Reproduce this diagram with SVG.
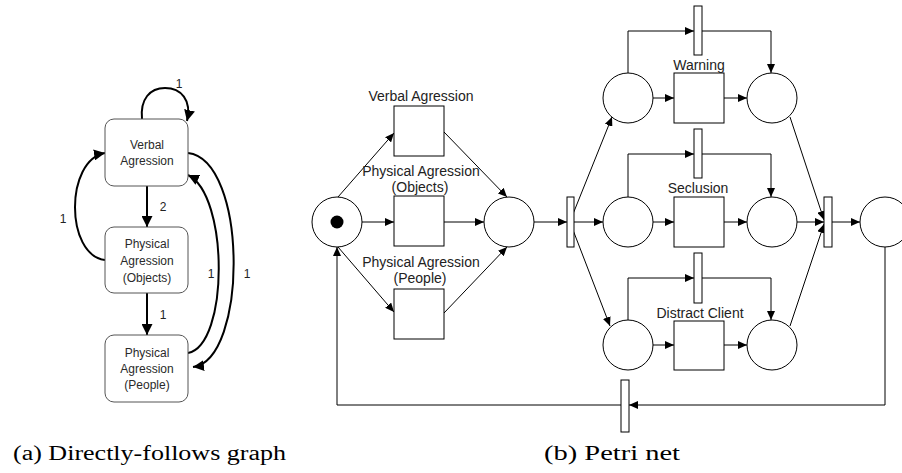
<svg xmlns="http://www.w3.org/2000/svg" width="902" height="473" viewBox="0 0 902 473">
<style>
.bg{fill:#fff}
.dbox{fill:#fff;stroke:#555;stroke-width:1}
.dtxt{font-family:"Liberation Sans",Arial,sans-serif;font-size:12px;fill:#2a2a2a;text-anchor:middle}
.dlbl{font-family:"Liberation Sans",Arial,sans-serif;font-size:12px;fill:#222;text-anchor:middle}
.darc{fill:none;stroke:#000;stroke-width:2;marker-end:url(#da)}
.place{fill:#fff;stroke:#000;stroke-width:1}
.trans{fill:#fff;stroke:#000;stroke-width:1}
.ptxt{font-family:"Liberation Sans",Arial,sans-serif;font-size:14px;fill:#222;text-anchor:middle}
.parc{fill:none;stroke:#000;stroke-width:1;marker-end:url(#pa)}
.cap{font-family:"Liberation Serif","Times New Roman",serif;font-size:20px;fill:#000}
</style>
<defs>
<marker id="da" markerUnits="userSpaceOnUse" markerWidth="11" markerHeight="11" viewBox="0 0 10 10" refX="10" refY="5" orient="auto">
<path d="M0,0 L10,5 L0,10 z" fill="#000"/>
</marker>
<marker id="pa" markerUnits="userSpaceOnUse" markerWidth="9" markerHeight="8" viewBox="0 0 9 8" refX="9" refY="4" orient="auto">
<path d="M0,0 L9,4 L0,8 z" fill="#000"/>
</marker>
</defs>
<rect class="bg" x="0" y="0" width="902" height="473"/>

<!-- Directly-follows graph -->
<g id="dfg-connectors">
<path class="darc" d="M142,119 C140,99 150,88 165,88 C181,88 192,100 187,121"/>
<path class="darc" d="M147,186 L147,227"/>
<path class="darc" d="M147,293 L147,335"/>
<path class="darc" d="M105,260 C65,255 65,160 105,153"/>
<path class="darc" d="M188,353 C229,345 229,195 188,175"/>
<path class="darc" d="M188,153 C248,160 248,360 193,367"/>
<text class="dlbl" x="179" y="88">1</text>
<text class="dlbl" x="163" y="211">2</text>
<text class="dlbl" x="163" y="319">1</text>
<text class="dlbl" x="63" y="223">1</text>
<text class="dlbl" x="211" y="278">1</text>
<text class="dlbl" x="247" y="278">1</text>
</g>
<g id="dfg-verbal">
<rect class="dbox" x="105" y="119" width="83" height="67" rx="9"/>
<text class="dtxt" x="147" y="149">Verbal</text>
<text class="dtxt" x="147" y="165">Agression</text>
</g>
<g id="dfg-objects">
<rect class="dbox" x="105" y="227" width="83" height="66" rx="9"/>
<text class="dtxt" x="147" y="248">Physical</text>
<text class="dtxt" x="147" y="265">Agression</text>
<text class="dtxt" x="147" y="282">(Objects)</text>
</g>
<g id="dfg-people">
<rect class="dbox" x="105" y="335" width="83" height="67" rx="9"/>
<text class="dtxt" x="147" y="357">Physical</text>
<text class="dtxt" x="147" y="373">Agression</text>
<text class="dtxt" x="147" y="389">(People)</text>
</g>

<!-- Petri net connectors -->
<g id="pn-connectors">
<path class="parc" d="M338,197 L394,133"/>
<path class="parc" d="M362,222 L394,222"/>
<path class="parc" d="M338,247 L394,312"/>
<path class="parc" d="M444,132 L507,197"/>
<path class="parc" d="M444,222 L484,222"/>
<path class="parc" d="M444,313 L507,247"/>
<path class="parc" d="M534,222 L567,222"/>
<path class="parc" d="M573,214 L612,117"/>
<path class="parc" d="M574,222 L603,222"/>
<path class="parc" d="M573,230 L610,326"/>
<path class="parc" d="M653,98 L674,98"/>
<path class="parc" d="M724,98 L747,98"/>
<path class="parc" d="M653,222 L674,222"/>
<path class="parc" d="M724,222 L747,222"/>
<path class="parc" d="M653,345 L674,345"/>
<path class="parc" d="M724,345 L747,345"/>
<path class="parc" d="M628,73 L628,31 L694,31"/>
<path class="parc" d="M702,31 L771,31 L771,73"/>
<path class="parc" d="M628,197 L628,154 L694,154"/>
<path class="parc" d="M702,154 L771,154 L771,197"/>
<path class="parc" d="M628,320 L628,278 L694,278"/>
<path class="parc" d="M702,278 L771,278 L771,320"/>
<path class="parc" d="M790,117 L824,220"/>
<path class="parc" d="M797,222 L824,222"/>
<path class="parc" d="M790,326 L824,224"/>
<path class="parc" d="M832,222 L860,222"/>
<path class="parc" d="M885,247 L885,405 L629,405"/>
<path class="parc" d="M621,405 L337,405 L337,247"/>
</g>

<!-- Petri net nodes -->
<g id="p-start">
<circle class="place" cx="337" cy="222" r="25"/>
<circle cx="337" cy="222" r="6.5" fill="#000"/>
</g>
<g id="t-verbal">
<rect class="trans" x="394" y="106" width="50" height="50"/>
<text class="ptxt" x="421" y="101">Verbal Agression</text>
</g>
<g id="t-objects">
<rect class="trans" x="394" y="196" width="50" height="50"/>
<text class="ptxt" x="421" y="176">Physical Agression</text>
<text class="ptxt" x="420" y="192">(Objects)</text>
</g>
<g id="t-people">
<rect class="trans" x="394" y="289" width="50" height="50"/>
<text class="ptxt" x="421" y="267">Physical Agression</text>
<text class="ptxt" x="420" y="283">(People)</text>
</g>
<g id="p-mid">
<circle class="place" cx="509" cy="222" r="25"/>
</g>
<g id="t-split">
<rect class="trans" x="567" y="197" width="7" height="50"/>
</g>
<g id="p-w1"><circle class="place" cx="628" cy="98" r="25"/></g>
<g id="p-s1"><circle class="place" cx="628" cy="222" r="25"/></g>
<g id="p-d1"><circle class="place" cx="628" cy="345" r="25"/></g>
<g id="t-warning">
<rect class="trans" x="674" y="73" width="50" height="50"/>
<text class="ptxt" x="699" y="70">Warning</text>
</g>
<g id="t-seclusion">
<rect class="trans" x="674" y="197" width="50" height="50"/>
<text class="ptxt" x="698" y="193">Seclusion</text>
</g>
<g id="t-distract">
<rect class="trans" x="674" y="321" width="50" height="49"/>
<text class="ptxt" x="700" y="318">Distract Client</text>
</g>
<g id="t-skip-w"><rect class="trans" x="694" y="6" width="8" height="49"/></g>
<g id="t-skip-s"><rect class="trans" x="694" y="129" width="8" height="49"/></g>
<g id="t-skip-d"><rect class="trans" x="694" y="253" width="8" height="50"/></g>
<g id="p-w2"><circle class="place" cx="772" cy="98" r="25"/></g>
<g id="p-s2"><circle class="place" cx="772" cy="222" r="25"/></g>
<g id="p-d2"><circle class="place" cx="772" cy="345" r="25"/></g>
<g id="t-join"><rect class="trans" x="824" y="197" width="8" height="50"/></g>
<g id="p-end"><circle class="place" cx="885" cy="222" r="25"/></g>
<g id="t-loop"><rect class="trans" x="621" y="380" width="8" height="52"/></g>

<!-- Captions -->
<text class="cap" x="13" y="460" textLength="273" lengthAdjust="spacingAndGlyphs">(a) Directly-follows graph</text>
<text class="cap" x="544" y="460" textLength="136" lengthAdjust="spacingAndGlyphs">(b) Petri net</text>
</svg>
